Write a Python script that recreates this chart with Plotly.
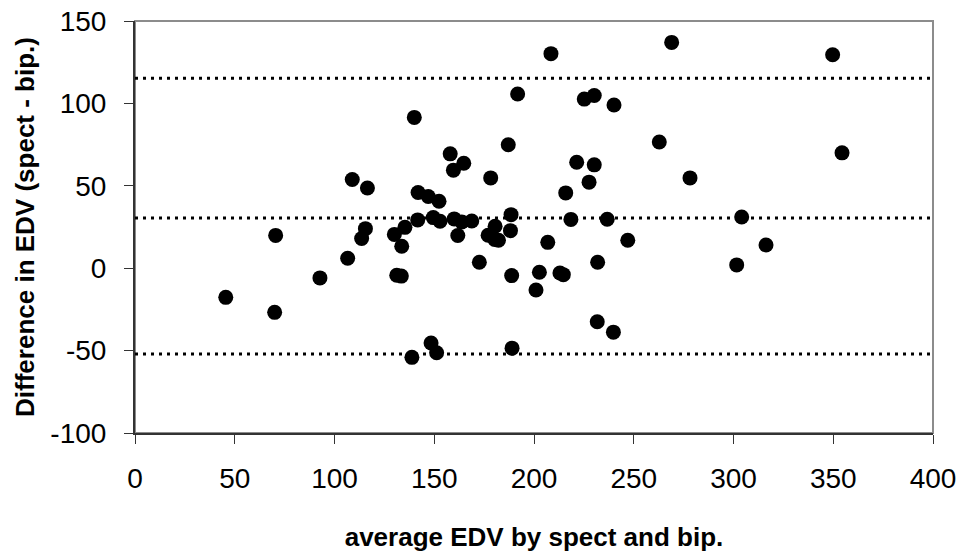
import plotly.graph_objects as go

avg_edv = [45.5, 70.5, 70.0, 92.7, 106.6, 108.9, 113.6, 115.5, 116.5, 130.0,
           131.2, 133.5, 133.7, 135.3, 140.0, 138.8, 141.9, 141.7, 147.0, 148.4,
           149.5, 151.2, 152.4, 152.9, 158.0, 159.6, 160.0, 161.8, 164.8, 163.8,
           168.8, 172.6, 177.0, 178.3, 180.5, 180.3, 182.2, 187.1, 188.5, 188.2,
           188.8, 189.0, 191.8, 201.0, 202.7, 206.9, 208.5, 213.0, 214.7, 215.9,
           218.5, 221.4, 225.2, 227.6, 230.2, 230.2, 231.9, 231.7, 236.7, 240.1,
           239.8, 247.0, 262.8, 269.0, 278.2, 301.6, 304.1, 316.3, 349.7, 354.4]
diff_edv = [-17.7, 19.9, -26.8, -5.9, 6.0, 53.8, 18.0, 24.0, 48.7, 20.5,
            -4.3, -4.8, 13.3, 24.8, 91.5, -54.1, 45.9, 29.3, 43.5, -45.4,
            30.7, -51.3, 40.6, 28.5, 69.4, 59.5, 29.9, 19.8, 63.7, 28.1,
            28.6, 3.6, 20.0, 54.8, 25.5, 17.4, 17.0, 74.9, 32.5, 22.8,
            -4.5, -48.5, 105.7, -13.2, -2.5, 15.7, 130.2, -2.9, -3.9, 45.7,
            29.6, 64.3, 102.6, 52.2, 104.8, 62.7, 3.6, -32.5, 29.7, 99.0,
            -38.8, 17.0, 76.6, 137.0, 54.8, 2.0, 31.1, 14.1, 129.5, 70.0]
ref_lines = [115.3, 30.5, -52.0]
x_span = [0, 400]
x_ticks = [0, 50, 100, 150, 200, 250, 300, 350, 400]
x_ticktext = ["0", "50", "100", "150", "200", "250", "300", "350", "400"]
y_ticks = [-100, -50, 0, 50, 100, 150]
y_ticktext = ["-100", "-50", "0", "50", "100", "150"]

fig = go.Figure()
for v in ref_lines:
    fig.add_trace(go.Scatter(x=x_span, y=[v, v], mode="lines",
                             line=dict(color="black", width=3, dash="3px,5px"),
                             hoverinfo="skip", showlegend=False, cliponaxis=False))
fig.add_trace(go.Scatter(x=avg_edv, y=diff_edv, mode="markers",
                         marker=dict(color="black", size=15, line=dict(width=0)),
                         showlegend=False))

font = "Liberation Sans, Arial, sans-serif"
fig.update_layout(
    width=962, height=557,
    margin=dict(l=135, r=29, t=21, b=124),
    paper_bgcolor="white", plot_bgcolor="white",
    font=dict(family=font, color="black"),
    shapes=[dict(type="rect", xref="paper", yref="paper", x0=0, x1=1, y0=0, y1=1,
                 line=dict(color="#8c8c8c", width=2), layer="below")],
)
fig.update_xaxes(range=[0, 400], tickvals=x_ticks, ticktext=x_ticktext,
                 automargin=False,
                 showgrid=False, zeroline=False,
                 showline=True, linecolor="#333333", linewidth=2,
                 ticks="outside", ticklen=9, tickcolor="#333333", tickwidth=1,
                 ticklabelstandoff=10,
                 tickfont=dict(size=28, family=font),
                 title=dict(text="<b>average EDV by spect and bip.</b>",
                            font=dict(size=26, family=font), standoff=35))
fig.update_yaxes(range=[-100, 150], tickvals=y_ticks, ticktext=y_ticktext,
                 automargin=False,
                 showgrid=False, zeroline=False,
                 showline=True, linecolor="#333333", linewidth=2,
                 ticks="outside", ticklen=9, tickcolor="#333333", tickwidth=1,
                 ticklabelstandoff=12,
                 tickfont=dict(size=28, family=font),
                 title=dict(text="<b>Difference in EDV (spect - bip.)</b>",
                            font=dict(size=26, family=font), standoff=8))
fig.write_html("out.html")
